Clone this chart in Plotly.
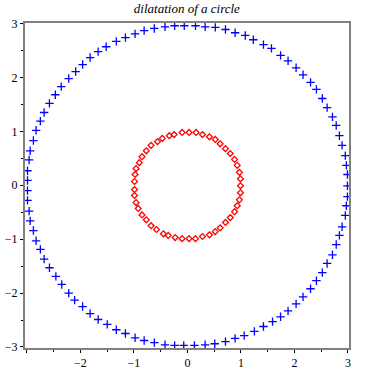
import plotly.graph_objects as go

# Dilated circle (radius 3) sample points
big_x = [2.99, 2.99, 2.97, 2.95, 2.89, 2.84, 2.78, 2.71, 2.61, 2.52, 2.41, 2.30, 2.16, 2.03, 1.88, 1.74, 1.57, 1.42, 1.23, 1.08,
         0.89, 0.71, 0.52, 0.33, 0.15, -0.06, -0.24, -0.42, -0.62, -0.81, -0.98, -1.16, -1.33, -1.52, -1.67, -1.82, -1.96, -2.09, -2.22, -2.36,
         -2.47, -2.58, -2.68, -2.75, -2.83, -2.88, -2.94, -2.96, -2.99, -2.99, -2.99, -2.99, -2.96, -2.94, -2.88, -2.83, -2.75, -2.68, -2.58, -2.46,
         -2.35, -2.22, -2.11, -1.96, -1.82, -1.67, -1.50, -1.33, -1.16, -0.98, -0.81, -0.62, -0.42, -0.24, -0.07, 0.13, 0.33, 0.51, 0.71, 0.89,
         1.06, 1.25, 1.42, 1.59, 1.74, 1.88, 2.03, 2.16, 2.30, 2.41, 2.52, 2.61, 2.71, 2.78, 2.84, 2.89, 2.95, 2.97, 2.99]
big_y = [-0.01, 0.20, 0.37, 0.55, 0.74, 0.92, 1.11, 1.27, 1.44, 1.61, 1.78, 1.91, 2.05, 2.18, 2.31, 2.41, 2.54, 2.61, 2.70, 2.78,
         2.83, 2.89, 2.93, 2.94, 2.96, 2.96, 2.96, 2.94, 2.91, 2.87, 2.81, 2.74, 2.67, 2.57, 2.48, 2.37, 2.24, 2.11, 1.98, 1.83,
         1.68, 1.52, 1.35, 1.19, 1.02, 0.83, 0.64, 0.47, 0.27, 0.09, -0.10, -0.28, -0.48, -0.66, -0.84, -1.03, -1.19, -1.37, -1.53, -1.69,
         -1.84, -2.00, -2.13, -2.25, -2.38, -2.49, -2.58, -2.68, -2.75, -2.83, -2.88, -2.92, -2.96, -2.97, -2.97, -2.97, -2.96, -2.94, -2.90, -2.84,
         -2.79, -2.71, -2.62, -2.53, -2.44, -2.33, -2.20, -2.07, -1.92, -1.77, -1.62, -1.45, -1.29, -1.10, -0.93, -0.77, -0.56, -0.38, -0.21]

# Original unit circle sample points
small_x = [0.99, 0.99, 0.97, 0.93, 0.88, 0.80, 0.71, 0.61, 0.52, 0.41, 0.28, 0.16, 0.03, -0.10, -0.25, -0.34, -0.47, -0.56, -0.68, -0.77,
           -0.85, -0.90, -0.96, -0.98, -0.99, -0.99, -0.99, -0.96, -0.92, -0.85, -0.77, -0.68, -0.58, -0.45, -0.36, -0.23, -0.10, 0.03, 0.15, 0.28,
           0.41, 0.52, 0.61, 0.71, 0.80, 0.88, 0.93, 0.97, 0.99]
small_y = [-0.01, 0.12, 0.24, 0.37, 0.48, 0.59, 0.68, 0.77, 0.85, 0.90, 0.94, 0.98, 0.98, 0.98, 0.94, 0.92, 0.87, 0.81, 0.74, 0.64,
           0.53, 0.42, 0.31, 0.20, 0.07, -0.08, -0.19, -0.32, -0.43, -0.55, -0.64, -0.75, -0.82, -0.90, -0.93, -0.97, -0.99, -0.99, -0.99, -0.95,
           -0.92, -0.86, -0.79, -0.69, -0.60, -0.49, -0.38, -0.27, -0.14]

x_tickvals = [-3, -2, -1, 0, 1, 2, 3]
x_ticktext = ["", "\u22122", "\u22121", "0", "1", "2", "3"]
y_tickvals = [-3, -2, -1, 0, 1, 2, 3]
y_ticktext = ["\u22123", "\u22122", "\u22121", "0", "1", "2", "3"]

fig = go.Figure()
fig.add_trace(go.Scatter(
    x=small_x, y=small_y, mode="markers",
    marker=dict(symbol="diamond-open", size=4.5, color="#ff0000", line=dict(color="#ff0000", width=1.3)),
    showlegend=False, hoverinfo="skip"))
fig.add_trace(go.Scatter(
    x=big_x, y=big_y, mode="markers",
    marker=dict(symbol="cross-thin", size=6, color="#0000ff", line=dict(color="#0000ff", width=1.3)),
    showlegend=False, hoverinfo="skip"))

axis_common = dict(
    showline=True, linecolor="#808080", linewidth=2, mirror=True,
    showgrid=False, zeroline=False, automargin=False,
    ticks="outside", ticklen=3, tickwidth=1, tickcolor="#000000",
    minor=dict(dtick=0.5, ticks="outside", ticklen=2, tickcolor="#000000", showgrid=False),
    tickfont=dict(family="Liberation Serif, Times New Roman, serif", size=12, color="#000000"),
    tickmode="array",
)

fig.update_xaxes(**axis_common, range=[-3.037, 3.019], tickvals=x_tickvals, ticktext=x_ticktext)
fig.update_yaxes(**axis_common, range=[-3.019, 3.011], tickvals=y_tickvals, ticktext=y_ticktext)

fig.update_layout(
    width=370, height=370,
    margin=dict(l=25, r=21, t=23, b=22),
    paper_bgcolor="white", plot_bgcolor="white",
    title=dict(text="dilatation of a circle", x=0.505, xanchor="center",
               yref="container", y=0.99, yanchor="top",
               font=dict(family="Liberation Serif, Times New Roman, serif", size=13, style="italic", color="#000000")),
)

fig.write_html("out.html", config={"displayModeBar": False},
               post_script="document.body.style.margin='0';")
